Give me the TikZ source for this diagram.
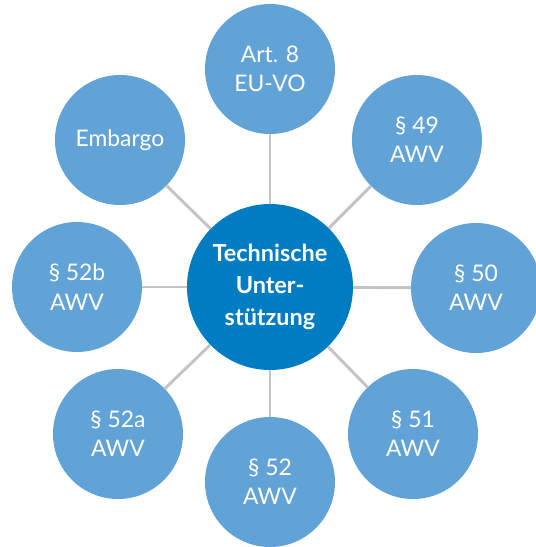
\documentclass[tikz,border=0pt]{standalone}
\usepackage{fontspec}
\setmainfont{Lato}
\usetikzlibrary{positioning}
\definecolor{hellblau}{HTML}{62A3D7}
\definecolor{dunkelblau}{HTML}{007CC3}
\definecolor{linie}{HTML}{C4C4C4}

\begin{document}
\begin{tikzpicture}[x=0.03cm, y=-0.03cm,
    kreis/.style={circle, fill=hellblau, text=white, minimum size=3.9cm, inner sep=0pt,
        align=center, font=\fontsize{19.5}{25}\selectfont},
    mitte/.style={circle, fill=dunkelblau, text=white, minimum size=4.98cm, inner sep=0pt,
        align=center, font=\bfseries\fontsize{20}{27}\selectfont},
    verbindung/.style={draw=linie, line width=2.5pt}]
            \useasboundingbox (0,0) rectangle (536,547);

            % Central circle
            \node[mitte] (tu) at (270,287) {Technische\\Unter-\\stützung};

            % Outer circles, each linked to the centre
            \foreach \name/\x/\y/\txt in {
                    art/270/69/{Art. 8\\EU-VO},
                    p49/417/140/{§ 49\\AWV},
                    p50/476/288/{§ 50\\AWV},
                    p51/413/434/{§ 51\\AWV},
                    p52/270/482/{§ 52\\AWV},
                    p52a/118/434/{§ 52a\\AWV},
                    p52b/77/287/{§ 52b\\AWV},
                    emb/120/140/{Embargo}} {
                \node[kreis] (\name) at (\x,\y) {\txt};
                % Line from centre to outer circle
                \draw[verbindung] (tu) -- (\name);
            }
        \end{tikzpicture}
\end{document}
